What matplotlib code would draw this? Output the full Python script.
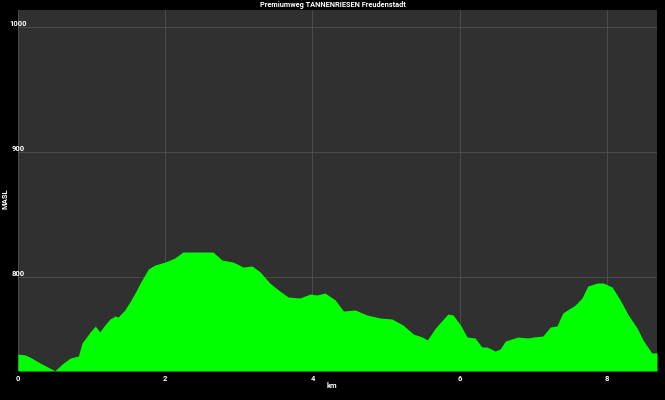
import matplotlib
matplotlib.use("Agg")
import matplotlib.pyplot as plt

title = "Premiumweg TANNENRIESEN Freudenstadt"
km = [0.00, 0.10, 0.16, 0.30, 0.43, 0.50, 0.60, 0.71, 0.82, 0.87, 0.98, 1.05, 1.11, 1.18,
      1.25, 1.32, 1.36, 1.45, 1.52, 1.59, 1.66, 1.77, 1.86, 2.00, 2.13, 2.24, 2.47, 2.65,
      2.77, 2.92, 3.06, 3.18, 3.29, 3.42, 3.52, 3.67, 3.83, 3.97, 4.06, 4.17, 4.31, 4.42,
      4.58, 4.74, 4.92, 5.08, 5.23, 5.37, 5.49, 5.56, 5.67, 5.73, 5.84, 5.91, 6.01, 6.10,
      6.21, 6.30, 6.37, 6.48, 6.55, 6.62, 6.79, 6.92, 7.00, 7.13, 7.23, 7.32, 7.40, 7.57,
      7.66, 7.74, 7.87, 7.95, 8.07, 8.18, 8.29, 8.41, 8.49, 8.61, 8.68]
elev = [738.4, 737.6, 736.0, 731.2, 727.2, 725.0, 730.4, 735.2, 736.8, 747.2, 756.0, 760.8, 756.0, 761.6,
        766.4, 768.8, 768.0, 773.6, 780.0, 787.2, 795.2, 806.4, 809.6, 812.0, 815.2, 820.0, 820.0, 820.0,
        813.6, 812.0, 808.0, 808.8, 804.0, 795.2, 790.4, 784.0, 783.2, 786.4, 785.6, 787.2, 781.6, 772.8,
        773.6, 769.6, 767.2, 766.4, 761.6, 754.4, 752.0, 749.6, 759.2, 763.2, 770.4, 769.6, 761.6, 752.0,
        751.2, 744.0, 744.0, 740.8, 742.4, 748.8, 752.0, 751.2, 752.0, 752.8, 760.0, 760.8, 771.2, 777.6,
        783.2, 792.8, 795.2, 795.2, 792.0, 781.6, 769.6, 759.2, 749.6, 739.2, 739.2]
xticks = [0, 2, 4, 6, 8]
yticks = [800, 900, 1000]

plt.rcParams['font.family'] = ['Roboto', 'DejaVu Sans']

fig = plt.figure(figsize=(6.65, 4.0), dpi=100, facecolor='black')
ax = fig.add_axes([18/665, 29/400, (657-18)/665, (371-10)/400])
ax.set_facecolor('#303030')
ax.fill_between(km, elev, 724.8, color='#00ff00', linewidth=0, zorder=3)
ax.set_xlim(0, 8.68)
ax.set_ylim(724.8, 1013.6)
ax.set_xticks(xticks)
ax.set_yticks(yticks)
ax.grid(True, color='#505050', linewidth=0.6)
for s in ax.spines.values():
    s.set_visible(False)
ax.tick_params(axis='both', length=0, colors='white', labelsize=5.5)
ax.tick_params(axis='y', pad=0)
ax.tick_params(axis='x', pad=3)
for lab in ax.get_yticklabels():
    lab.set_horizontalalignment('center')
    lab.set_verticalalignment('bottom')
    lab.set_fontweight('bold')
for lab in ax.get_xticklabels():
    lab.set_fontweight('bold')
fig.text(5/665, 1 - 199/400, 'MASL', rotation=90, color='white', fontsize=5.5,
         fontweight='bold', ha='center', va='center')
fig.text(332/665, 1 - 385.5/400, 'km', color='white', fontsize=5.5, fontweight='bold',
         ha='center', va='center')
fig.text(332.5/665, 1 - 5/400, title, color='white', fontsize=5.3, fontweight='bold',
         ha='center', va='center')
fig.savefig('out.png', dpi=100, facecolor='black')
